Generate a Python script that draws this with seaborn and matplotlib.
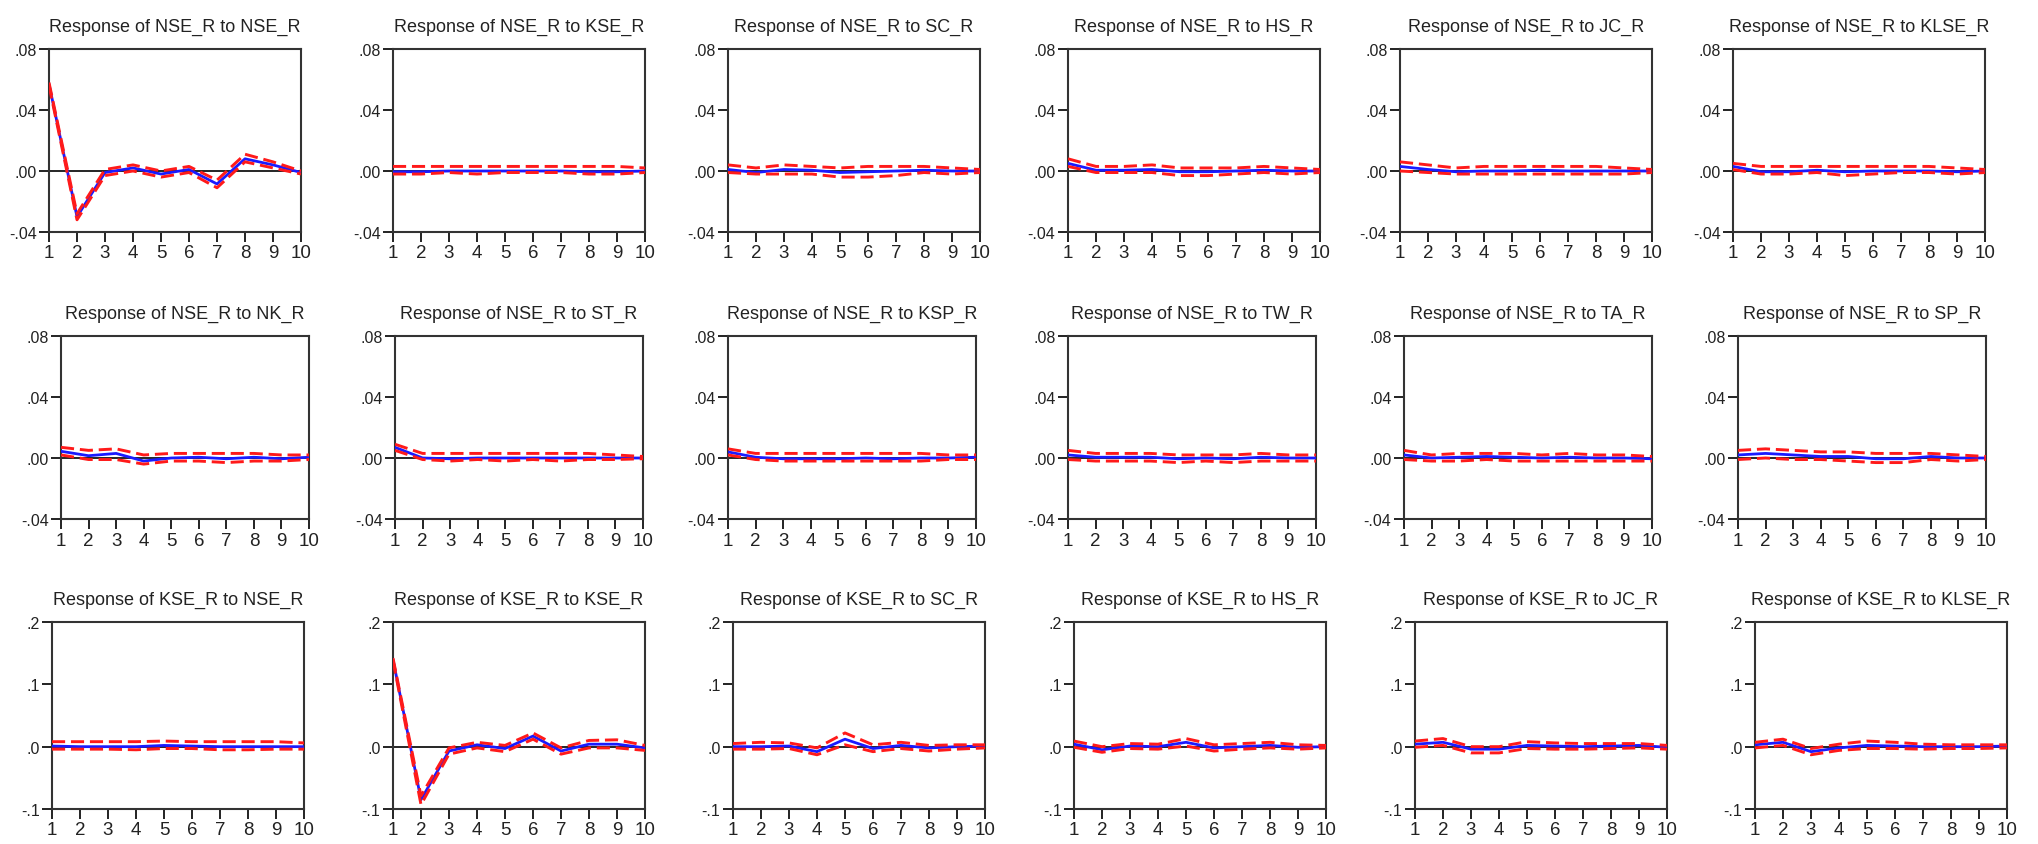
import numpy as np
import pandas as pd
import matplotlib
matplotlib.use("Agg")
import matplotlib.pyplot as plt
import seaborn as sns

sns.set_style("white")
plt.rcParams['font.family'] = ['Liberation Sans', 'DejaVu Sans']

horizons = [1, 2, 3, 4, 5, 6, 7, 8, 9, 10]

# ---- Row 1: Response of NSE_R ----
nse_nse_resp = [0.057, -0.030, -0.001, 0.002, -0.002, 0.001, -0.0085, 0.008, 0.004, -0.001]
nse_nse_up   = [0.058, -0.028, 0.001, 0.004, 0.000, 0.003, -0.006, 0.011, 0.006, 0.000]
nse_nse_lo   = [0.056, -0.032, -0.003, 0.000, -0.004, -0.001, -0.011, 0.006, 0.002, -0.002]

nse_kse_resp = [-0.0005, -0.0005, 0.0, 0.0, 0.0, 0.0, 0.0, -0.0005, -0.0005, 0.0]
nse_kse_up   = [0.003, 0.003, 0.003, 0.003, 0.003, 0.003, 0.003, 0.003, 0.003, 0.002]
nse_kse_lo   = [-0.002, -0.002, -0.001, -0.002, -0.001, -0.001, -0.001, -0.002, -0.002, -0.001]

nse_sc_resp = [0.001, -0.001, 0.001, 0.0005, -0.001, -0.0005, 0.0, 0.0005, 0.0, 0.0]
nse_sc_up   = [0.004, 0.002, 0.004, 0.003, 0.002, 0.003, 0.003, 0.003, 0.002, 0.001]
nse_sc_lo   = [-0.001, -0.002, -0.002, -0.002, -0.004, -0.004, -0.003, -0.001, -0.002, -0.001]

nse_hs_resp = [0.005, 0.0005, 0.0005, 0.001, -0.0005, -0.0005, 0.0, 0.0005, 0.0, 0.0]
nse_hs_up   = [0.008, 0.003, 0.003, 0.004, 0.002, 0.002, 0.002, 0.003, 0.002, 0.001]
nse_hs_lo   = [0.003, -0.001, -0.001, -0.001, -0.003, -0.003, -0.002, -0.001, -0.002, -0.001]

nse_jc_resp = [0.003, 0.001, -0.0005, 0.0, 0.0, 0.0005, 0.0, 0.0, 0.0, 0.0]
nse_jc_up   = [0.006, 0.004, 0.002, 0.003, 0.003, 0.003, 0.003, 0.003, 0.002, 0.001]
nse_jc_lo   = [0.000, -0.001, -0.002, -0.002, -0.002, -0.002, -0.002, -0.002, -0.002, -0.001]

nse_klse_resp = [0.003, -0.0005, -0.0005, 0.0005, -0.0005, 0.0, 0.0, 0.0, -0.0005, 0.0]
nse_klse_up   = [0.005, 0.003, 0.003, 0.003, 0.003, 0.003, 0.003, 0.003, 0.002, 0.001]
nse_klse_lo   = [0.001, -0.002, -0.002, -0.001, -0.003, -0.002, -0.001, -0.001, -0.002, -0.001]

# ---- Row 2: Response of NSE_R ----
nse_nk_resp = [0.0044, 0.0015, 0.003, -0.002, 0.0, 0.0005, -0.0005, 0.0005, -0.0005, 0.0005]
nse_nk_up   = [0.007, 0.005, 0.006, 0.002, 0.003, 0.003, 0.003, 0.003, 0.002, 0.002]
nse_nk_lo   = [0.002, -0.001, -0.001, -0.004, -0.002, -0.002, -0.003, -0.002, -0.002, -0.001]

nse_st_resp = [0.007, 0.0, -0.0005, 0.0, 0.0, 0.0, 0.0, 0.0, 0.0, 0.0]
nse_st_up   = [0.009, 0.003, 0.003, 0.003, 0.003, 0.003, 0.003, 0.003, 0.002, 0.001]
nse_st_lo   = [0.005, -0.001, -0.002, -0.001, -0.002, -0.001, -0.002, -0.001, -0.001, -0.0005]

nse_ksp_resp = [0.004, 0.0005, -0.0005, -0.0005, -0.0005, 0.0, -0.0005, 0.0, 0.0, 0.0005]
nse_ksp_up   = [0.006, 0.003, 0.003, 0.003, 0.003, 0.003, 0.003, 0.003, 0.002, 0.002]
nse_ksp_lo   = [0.002, -0.001, -0.002, -0.002, -0.002, -0.002, -0.002, -0.002, -0.001, -0.001]

nse_tw_resp = [0.002, 0.0005, 0.0005, 0.0005, -0.0005, 0.0, -0.0005, 0.0005, 0.0, 0.0]
nse_tw_up   = [0.005, 0.003, 0.003, 0.003, 0.002, 0.002, 0.002, 0.003, 0.002, 0.002]
nse_tw_lo   = [-0.001, -0.002, -0.002, -0.002, -0.003, -0.002, -0.003, -0.002, -0.002, -0.002]

nse_ta_resp = [0.002, 0.0, 0.0005, 0.001, 0.0005, 0.0, 0.0005, 0.0, 0.0, -0.0005]
nse_ta_up   = [0.005, 0.002, 0.003, 0.003, 0.003, 0.002, 0.003, 0.002, 0.002, 0.001]
nse_ta_lo   = [-0.001, -0.002, -0.002, -0.001, -0.002, -0.002, -0.002, -0.002, -0.002, -0.002]

nse_sp_resp = [0.002, 0.003, 0.002, 0.001, 0.001, -0.0005, -0.0005, 0.001, 0.0, 0.0]
nse_sp_up   = [0.005, 0.006, 0.005, 0.004, 0.004, 0.003, 0.003, 0.003, 0.002, 0.001]
nse_sp_lo   = [-0.001, 0.000, -0.001, -0.001, -0.002, -0.003, -0.003, -0.001, -0.002, -0.001]

# ---- Row 3: Response of KSE_R ----
kse_nse_resp = [0.001, 0.0, 0.0, 0.0, 0.002, 0.001, 0.0, 0.0, 0.0, 0.0]
kse_nse_up   = [0.008, 0.008, 0.008, 0.008, 0.009, 0.008, 0.008, 0.008, 0.008, 0.006]
kse_nse_lo   = [-0.004, -0.004, -0.004, -0.005, -0.003, -0.003, -0.005, -0.005, -0.004, -0.004]

kse_kse_resp = [0.140, -0.085, -0.007, 0.003, -0.003, 0.017, -0.007, 0.004, 0.004, -0.002]
kse_kse_up   = [0.142, -0.079, -0.002, 0.007, 0.002, 0.022, -0.002, 0.010, 0.011, 0.002]
kse_kse_lo   = [0.138, -0.093, -0.012, -0.002, -0.008, 0.012, -0.012, -0.002, -0.002, -0.006]

kse_sc_resp = [0.0, 0.0, 0.001, -0.008, 0.012, -0.003, 0.002, -0.002, 0.0, 0.001]
kse_sc_up   = [0.005, 0.007, 0.006, -0.002, 0.022, 0.003, 0.007, 0.002, 0.003, 0.003]
kse_sc_lo   = [-0.004, -0.004, -0.003, -0.013, 0.003, -0.008, -0.003, -0.007, -0.004, -0.002]

kse_hs_resp = [0.004, -0.005, 0.001, 0.0, 0.007, -0.002, 0.0, 0.002, -0.001, 0.0]
kse_hs_up   = [0.009, 0.000, 0.005, 0.004, 0.013, 0.003, 0.005, 0.007, 0.003, 0.002]
kse_hs_lo   = [-0.001, -0.009, -0.003, -0.004, 0.001, -0.007, -0.004, -0.002, -0.004, -0.002]

kse_jc_resp = [0.004, 0.007, -0.004, -0.004, 0.002, 0.001, 0.0, 0.001, 0.002, -0.001]
kse_jc_up   = [0.009, 0.013, 0.000, 0.000, 0.008, 0.006, 0.005, 0.005, 0.005, 0.002]
kse_jc_lo   = [-0.001, 0.002, -0.010, -0.010, -0.003, -0.004, -0.004, -0.003, -0.002, -0.004]

kse_klse_resp = [0.003, 0.007, -0.008, -0.002, 0.002, 0.001, 0.0, 0.0, 0.0, 0.001]
kse_klse_up   = [0.007, 0.012, -0.003, 0.004, 0.009, 0.007, 0.004, 0.003, 0.003, 0.003]
kse_klse_lo   = [-0.002, 0.002, -0.013, -0.006, -0.003, -0.003, -0.004, -0.003, -0.003, -0.002]

row1_titles = ["Response of NSE_R to NSE_R", "Response of NSE_R to KSE_R", "Response of NSE_R to SC_R",
               "Response of NSE_R to HS_R", "Response of NSE_R to JC_R", "Response of NSE_R to KLSE_R"]
row2_titles = ["Response of NSE_R to NK_R", "Response of NSE_R to ST_R", "Response of NSE_R to KSP_R",
               "Response of NSE_R to TW_R", "Response of NSE_R to TA_R", "Response of NSE_R to SP_R"]
row3_titles = ["Response of KSE_R to NSE_R", "Response of KSE_R to KSE_R", "Response of KSE_R to SC_R",
               "Response of KSE_R to HS_R", "Response of KSE_R to JC_R", "Response of KSE_R to KLSE_R"]

nse_yticks = [-0.04, 0.00, 0.04, 0.08]
nse_yticklabels = ["-.04", ".00", ".04", ".08"]
kse_yticks = [-0.1, 0.0, 0.1, 0.2]
kse_yticklabels = ["-.1", ".0", ".1", ".2"]
xticklabels = ["1", "2", "3", "4", "5", "6", "7", "8", "9", "10"]

rows = [
    dict(titles=row1_titles, yt=nse_yticks, ytl=nse_yticklabels,
         data=[(nse_nse_resp, nse_nse_up, nse_nse_lo), (nse_kse_resp, nse_kse_up, nse_kse_lo),
               (nse_sc_resp, nse_sc_up, nse_sc_lo), (nse_hs_resp, nse_hs_up, nse_hs_lo),
               (nse_jc_resp, nse_jc_up, nse_jc_lo), (nse_klse_resp, nse_klse_up, nse_klse_lo)],
         lefts=[49, 393, 728, 1068, 1400, 1733], width=252, top=50, height=183),
    dict(titles=row2_titles, yt=nse_yticks, ytl=nse_yticklabels,
         data=[(nse_nk_resp, nse_nk_up, nse_nk_lo), (nse_st_resp, nse_st_up, nse_st_lo),
               (nse_ksp_resp, nse_ksp_up, nse_ksp_lo), (nse_tw_resp, nse_tw_up, nse_tw_lo),
               (nse_ta_resp, nse_ta_up, nse_ta_lo), (nse_sp_resp, nse_sp_up, nse_sp_lo)],
         lefts=[61, 395, 728, 1068, 1404, 1738], width=248, top=337, height=183),
    dict(titles=row3_titles, yt=kse_yticks, ytl=kse_yticklabels,
         data=[(kse_nse_resp, kse_nse_up, kse_nse_lo), (kse_kse_resp, kse_kse_up, kse_kse_lo),
               (kse_sc_resp, kse_sc_up, kse_sc_lo), (kse_hs_resp, kse_hs_up, kse_hs_lo),
               (kse_jc_resp, kse_jc_up, kse_jc_lo), (kse_klse_resp, kse_klse_up, kse_klse_lo)],
         lefts=[52, 393, 733, 1074, 1415, 1755], width=252, top=623, height=187),
]

W, H = 2038, 845
fig = plt.figure(figsize=(W / 100, H / 100), dpi=100)
fig.patch.set_facecolor("white")

for row in rows:
    for title, (resp, up, lo), left in zip(row["titles"], row["data"], row["lefts"]):
        ax = fig.add_axes([left / W, 1 - (row["top"] + row["height"]) / H,
                           row["width"] / W, row["height"] / H])
        df = pd.DataFrame({"h": horizons, "resp": resp, "up": up, "lo": lo})
        ax.axhline(0, color="black", lw=1.2, zorder=1)
        sns.lineplot(data=df, x="h", y="resp", ax=ax, color="#1a1aff", lw=2.0, zorder=3)
        sns.lineplot(data=df, x="h", y="up", ax=ax, color="#ff1a1a", lw=2.1,
                     linestyle=(0, (4.5, 2)), zorder=4)
        sns.lineplot(data=df, x="h", y="lo", ax=ax, color="#ff1a1a", lw=2.1,
                     linestyle=(0, (4.5, 2)), zorder=4)
        ax.set_xlim(1, 10)
        ax.set_ylim(row["yt"][0], row["yt"][-1])
        ax.set_xticks(horizons)
        ax.set_xticklabels(xticklabels, fontsize=13.5)
        ax.set_yticks(row["yt"])
        ax.set_yticklabels(row["ytl"], fontsize=11.5)
        ax.set_xlabel("")
        ax.set_ylabel("")
        ax.tick_params(axis="both", direction="out", length=7, width=1.4, color="#222222",
                       labelcolor="#222222", left=True, bottom=True, pad=2)
        for s in ax.spines.values():
            s.set_visible(True)
            s.set_color("#333333")
            s.set_linewidth(1.5)
        ax.set_title(title, fontsize=13, pad=13, color="#222222")

fig.savefig("out.png", dpi=100, facecolor="white")
